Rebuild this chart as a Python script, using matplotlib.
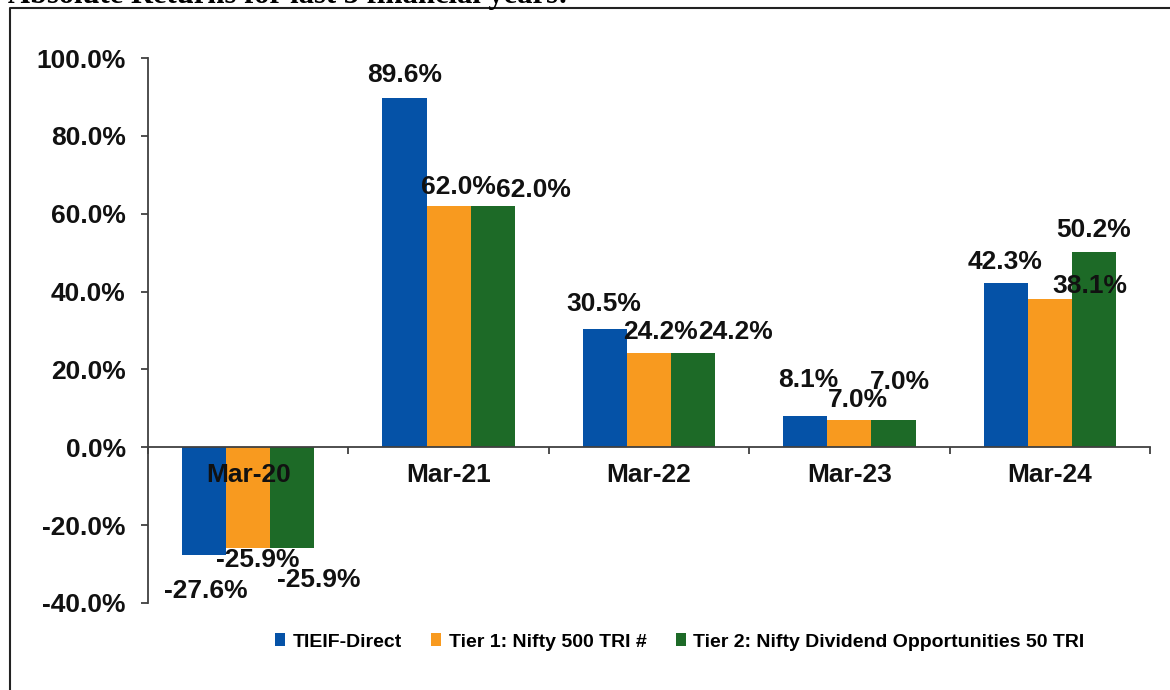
import matplotlib.pyplot as plt
import numpy as np
from matplotlib.lines import Line2D

plt.rcParams['font.family'] = ['Liberation Sans', 'DejaVu Sans']

# data
years = ['Mar-20', 'Mar-21', 'Mar-22', 'Mar-23', 'Mar-24']
series = ['TIEIF-Direct', 'Tier 1: Nifty 500 TRI #', 'Tier 2: Nifty Dividend Opportunities 50 TRI']
tieif = [-27.6, 89.6, 30.5, 8.1, 42.3]
tier1 = [-25.9, 62.0, 24.2, 7.0, 38.1]
tier2 = [-25.9, 62.0, 24.2, 7.0, 50.2]
colors = ['#0552A7', '#F89A1F', '#1D6A27']

# label nudges in pixels (dx, dy) from bar end, like the hand-moved excel labels
nudges = [
    [(2, -36), (0, 23), (-1, 25), (3, 36), (-1, 21)],
    [(10, -12), (10, 19), (11, 21), (9, 20), (40, 13)],
    [(26, -32), (41, 16), (42, 21), (6, 38), (0, 22)],
]

fig = plt.figure(figsize=(11.7, 6.9), dpi=100)
ax = fig.add_axes([148/1170, 1-603/690, (1150-148)/1170, (603-58)/690])

x = np.arange(len(years))
w = 0.22
for i, vals in enumerate([tieif, tier1, tier2]):
    xs = x + (i-1)*w
    ax.bar(xs, vals, width=w, color=colors[i], label=series[i])
    for j, v in enumerate(vals):
        dx, dy = nudges[i][j]
        ax.annotate(f'{v:.1f}%', (xs[j], v), xytext=(dx, dy), textcoords='offset pixels',
                    ha='center', va='center', fontsize=19, fontweight='bold', color='#111111')

ax.set_xlim(-0.5, 4.5)
ax.set_ylim(-40, 100)
ax.set_yticks(np.arange(-40, 101, 20))
ax.set_yticklabels([f'{t:.1f}%' for t in np.arange(-40, 101, 20)])
ax.set_xticks(x)
ax.set_xticklabels(years)
ax.set_xticks(np.arange(-0.5, 4.6, 1), minor=True)

for s in ['top', 'right']:
    ax.spines[s].set_visible(False)
ax.spines['bottom'].set_position(('data', 0))
for s in ['left', 'bottom']:
    ax.spines[s].set_color('#404040')
    ax.spines[s].set_linewidth(1.3)

ax.tick_params(axis='y', length=5, width=1.3, color='#404040', pad=11, labelsize=19)
ax.tick_params(axis='x', which='major', length=0, pad=11, labelsize=19)
ax.tick_params(axis='x', which='minor', length=5, width=1.3, color='#404040', direction='out')
for lbl in ax.get_yticklabels() + ax.get_xticklabels():
    lbl.set_fontweight('bold')
    lbl.set_color('#111111')

fig.legend(loc='center', bbox_to_anchor=(680/1170, 1-642/690), ncol=3, frameon=False,
           handlelength=0.5, handleheight=0.65, handletextpad=0.4, columnspacing=1.5,
           prop={'size': 14, 'weight': 'bold'})

# frame around the chart
fig.add_artist(Line2D([10/1170, 10/1170, 1.0], [0.0, 1-8/690, 1-8/690], color='#222222', lw=1.5))

# title cut off at the top of the crop
fig.text(8/1170, 1-3/690, 'Absolute Returns for last 5 financial years:', family='Liberation Serif',
         fontweight='bold', fontsize=22, va='baseline', ha='left')

fig.savefig('out.png', dpi=100)
